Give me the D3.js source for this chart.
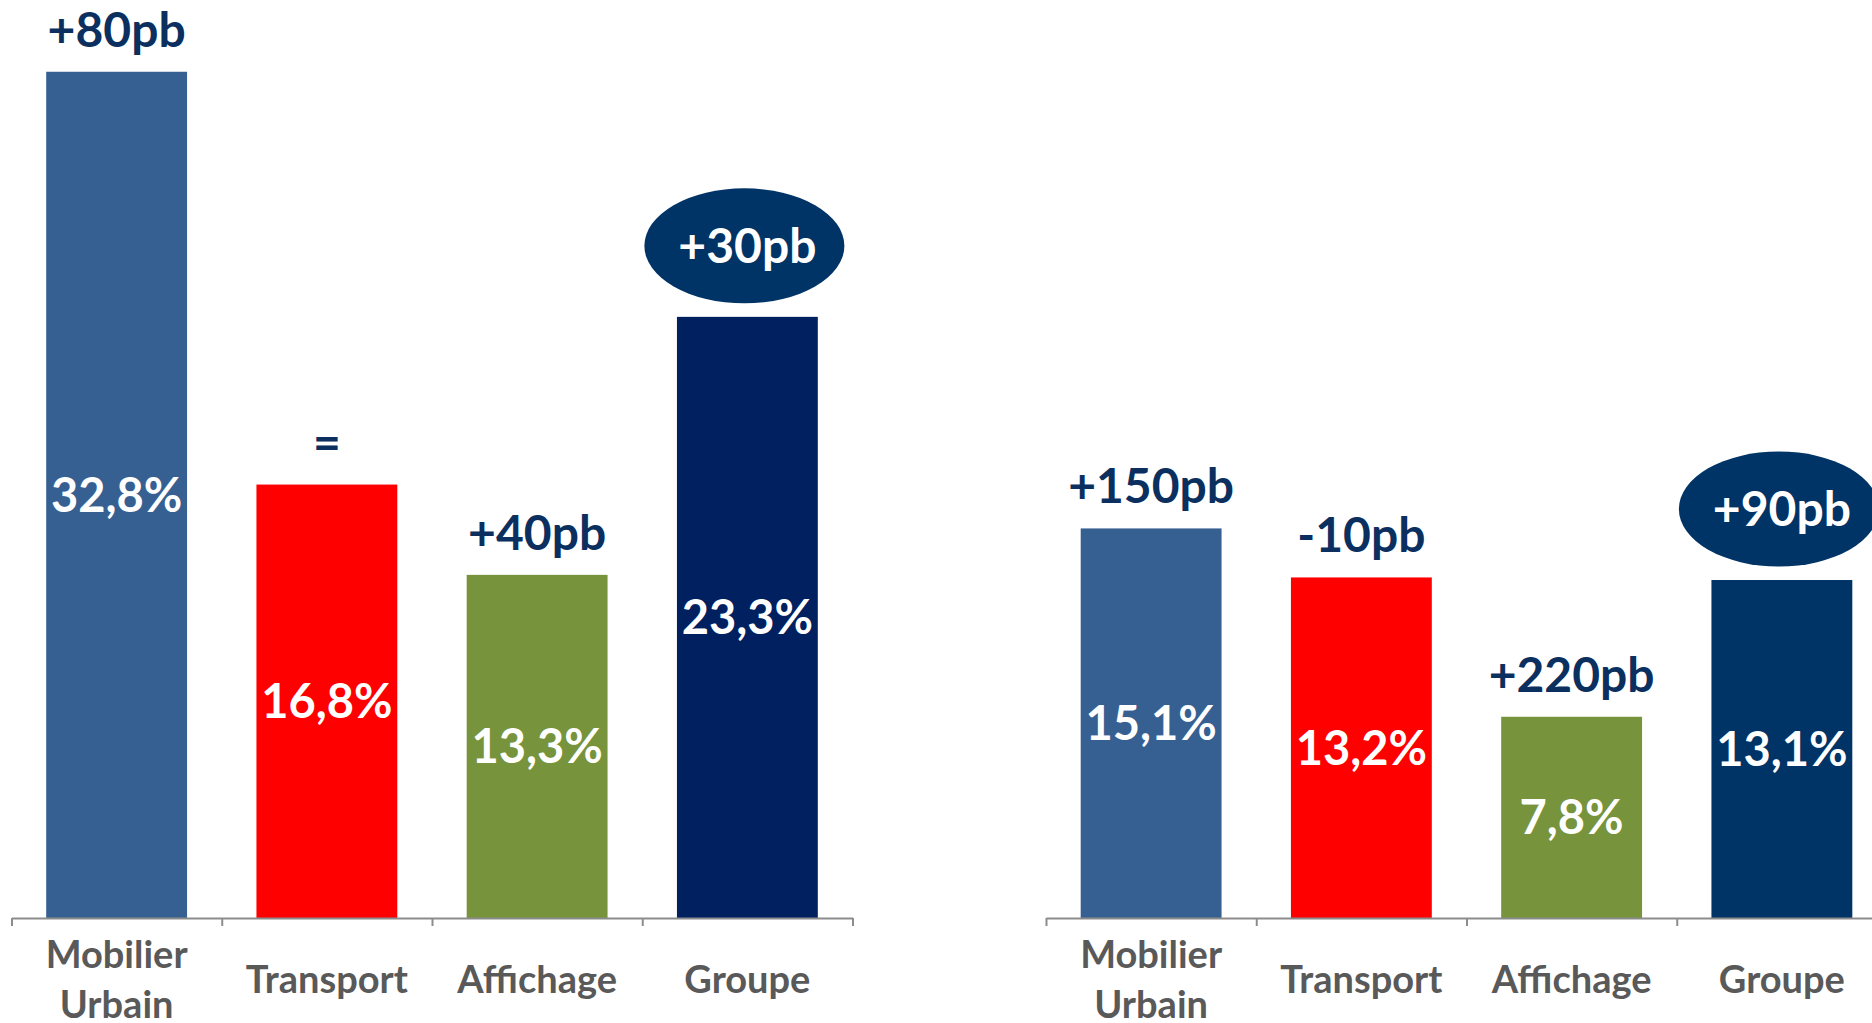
<!DOCTYPE html>
<html>
<head>
<meta charset="utf-8">
<script src="https://cdn.jsdelivr.net/npm/d3@7"></script>
<style>
  body { margin: 0; background: #fff; }
  svg text { font-family: Lato, 'Open Sans', sans-serif; font-weight: bold; }
</style>
</head>
<body>
<div class="chart-container"></div>
<script>
'use strict';

var categories = ['Mobilier Urbain', 'Transport', 'Affichage', 'Groupe'];
var leftValues = [32.8, 16.8, 13.3, 23.3];
var leftChanges = ['+80pb', '=', '+40pb', '+30pb'];
var rightValues = [15.1, 13.2, 7.8, 13.1];
var rightChanges = ['+150pb', '-10pb', '+220pb', '+90pb'];

var leftColors = ['#376092', '#ff0000', '#77933c', '#002060'];
var rightColors = ['#376092', '#ff0000', '#77933c', '#003366'];

var width = 1872,
  height = 1023,
  baseY = 918;

var y = d3.scaleLinear().domain([0, 35]).range([baseY, baseY - 25.8 * 35]);

var svg = d3.select('.chart-container').append('svg')
  .attr('width', width)
  .attr('height', height);

function fmt(v) {
  return v.toFixed(1).replace('.', ',') + '%';
}

function drawPanel(values, changes, colors, range) {
  var x = d3.scaleBand().domain(categories).range(range)
    .paddingInner(0.33).paddingOuter(0.165);
  // tick marks sit on the band edges, not the centres
  var edges = d3.scaleLinear().domain([0, categories.length]).range(range);
  var g = svg.append('g');
  var cx = function (d, i) { return x(categories[i]) + x.bandwidth() / 2; };

  g.selectAll('.bar')
    .data(values)
    .enter()
    .append('rect')
    .attr('class', 'bar')
    .attr('x', function (d, i) { return x(categories[i]); })
    .attr('width', x.bandwidth())
    .attr('y', function (d) { return y(d); })
    .attr('height', function (d) { return baseY - y(d); })
    .attr('fill', function (d, i) { return colors[i]; });

  g.append('g')
    .attr('transform', 'translate(0,' + baseY + ')')
    .call(d3.axisBottom(edges)
      .tickValues(d3.range(categories.length + 1))
      .tickSize(8)
      .tickSizeOuter(0)
      .tickFormat(''))
    .call(function (a) {
      a.selectAll('path, line').attr('stroke', '#8c8c8c').attr('stroke-width', 2);
    });

  // values inside the bars
  g.selectAll('.value')
    .data(values)
    .enter()
    .append('text')
    .attr('class', 'value')
    .attr('x', cx)
    .attr('y', function (d) { return (y(d) + baseY) / 2; })
    .attr('dy', '0.36em')
    .attr('text-anchor', 'middle')
    .style('font-size', '47px')
    .attr('fill', '#fff')
    .text(fmt);

  // change labels, the last one (Groupe) in an ellipse
  var last = categories.length - 1;
  g.selectAll('.change')
    .data(changes)
    .enter()
    .append('text')
    .attr('class', 'change')
    .attr('x', cx)
    .attr('y', function (d, i) { return y(values[i]) - (i === last ? 71 : 25); })
    .attr('dy', function (d, i) { return i === last ? '0.36em' : 0; })
    .attr('text-anchor', 'middle')
    .style('font-size', '48px')
    .attr('fill', function (d, i) { return i === last ? '#fff' : '#0b3060'; })
    .text(function (d) { return d; });

  g.insert('ellipse', '.change')
    .attr('cx', cx(null, last) - 3)
    .attr('cy', y(values[last]) - 71)
    .attr('rx', 100)
    .attr('ry', 57.5)
    .attr('fill', '#003366');

  // category labels below the axis
  var labels = g.selectAll('.cat')
    .data(categories)
    .enter()
    .append('text')
    .attr('class', 'cat')
    .attr('text-anchor', 'middle')
    .style('font-size', '38px')
    .attr('fill', '#595959');

  labels.each(function (d, i) {
    var words = d.split(' ');
    var top = words.length > 1 ? 968 : 993;
    d3.select(this).selectAll('tspan')
      .data(words)
      .enter()
      .append('tspan')
      .attr('x', cx(d, i))
      .attr('y', function (w, j) { return top + j * 50; })
      .text(function (w) { return w; });
  });
}

drawPanel(leftValues, leftChanges, leftColors, [11.5, 852.5]);
drawPanel(rightValues, rightChanges, rightColors, [1046, 1887]);
</script>
</body>
</html>
